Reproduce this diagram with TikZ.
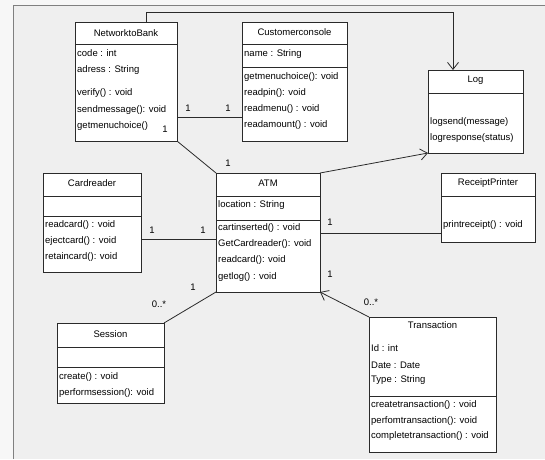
\documentclass[tikz,border=0pt]{standalone}
\usepackage{fontspec}
\setmainfont{Liberation Sans}
\usetikzlibrary{arrows.meta,calc}
\definecolor{canvas}{HTML}{EFEFEF}
\definecolor{outer}{HTML}{F7F7F7}
\definecolor{edge}{HTML}{2A2A2A}
\begin{document}
\begin{tikzpicture}[x=1pt,y=-1pt,
  font=\fontsize{9.5}{11}\selectfont,
  classbox/.style={draw=edge, fill=white, line width=0.9pt, anchor=north west, inner sep=0pt, outer sep=0pt},
  sep/.style={draw=edge, line width=0.9pt},
  row/.style={anchor=west, inner sep=0pt},
  title/.style={anchor=center, inner sep=0pt},
  assoc/.style={draw=edge, line width=0.8pt},
  nav/.style={assoc, -{Straight Barb[length=7pt,width=11pt,line width=0.8pt]}},
  mult/.style={inner sep=0pt, anchor=center}]
\useasboundingbox (0,0) rectangle (545,459);
\fill[outer] (0,0) rectangle (545,459);
\fill[canvas] (13,5) rectangle (545,459);
\draw[gray, line width=0.8pt] (13,459) -- (13,5) -- (545,5);

% ---------- NetworktoBank ----------
\node[classbox, minimum width=102pt, minimum height=119pt] (nb) at (75,22) {};
\draw[sep] ($(nb.north west)+(0,22)$) -- ($(nb.north east)+(0,22)$);
\node[title] (nbT) at (126,33) {NetworktoBank};
\node[row] (nb1) at (77,53) {code : int};
\node[row] (nb2) at (77,70) {adress : String};
\node[row] (nb3) at (77,93) {verify() : void};
\node[row] (nb4) at (77,110) {sendmessage(): void};
\node[row] (nb5) at (77,126) {getmenuchoice()};

% ---------- Customerconsole ----------
\node[classbox, minimum width=105pt, minimum height=119pt] (cc) at (242,22) {};
\draw[sep] ($(cc.north west)+(0,22)$) -- ($(cc.north east)+(0,22)$);
\draw[sep] ($(cc.north west)+(0,45)$) -- ($(cc.north east)+(0,45)$);
\node[title] (ccT) at (294.5,32) {Customerconsole};
\node[row] (cc1) at (244,54) {name : String};
\node[row] (cc2) at (244,77) {getmenuchoice(): void};
\node[row] (cc3) at (244,93) {readpin(): void};
\node[row] (cc4) at (244,109) {readmenu() : void};
\node[row] (cc5) at (244,125) {readamount() : void};

% ---------- Log ----------
\node[classbox, minimum width=95pt, minimum height=83pt] (log) at (428,70) {};
\draw[sep] ($(log.north west)+(0,23)$) -- ($(log.north east)+(0,23)$);
\node[title] (logT) at (475.5,80) {Log};
\node[row] (log1) at (430,122) {logsend(message)};
\node[row] (log2) at (430,138) {logresponse(status)};

% ---------- Cardreader ----------
\node[classbox, minimum width=98pt, minimum height=99pt] (cr) at (43,173) {};
\draw[sep] ($(cr.north west)+(0,23)$) -- ($(cr.north east)+(0,23)$);
\draw[sep] ($(cr.north west)+(0,43)$) -- ($(cr.north east)+(0,43)$);
\node[title] (crT) at (92,183) {Cardreader};
\node[row] (cr1) at (45,225) {readcard() : void};
\node[row] (cr2) at (45,241) {ejectcard() : void};
\node[row] (cr3) at (45,257) {retaincard(): void};

% ---------- ATM ----------
\node[classbox, minimum width=104pt, minimum height=119pt] (atm) at (216,173) {};
\draw[sep] ($(atm.north west)+(0,23)$) -- ($(atm.north east)+(0,23)$);
\draw[sep] ($(atm.north west)+(0,47)$) -- ($(atm.north east)+(0,47)$);
\node[title] (atmT) at (268,183) {ATM};
\node[row] (atm1) at (218,205) {location : String};
\node[row] (atm2) at (218,228) {cartinserted() : void};
\node[row] (atm3) at (218,244) {GetCardreader(): void};
\node[row] (atm4) at (218,260) {readcard(): void};
\node[row] (atm5) at (218,277) {getlog() : void};

% ---------- ReceiptPrinter ----------
\node[classbox, minimum width=94pt, minimum height=69pt] (rp) at (441,173) {};
\draw[sep] ($(rp.north west)+(0,23)$) -- ($(rp.north east)+(0,23)$);
\node[title] (rpT) at (488,183) {ReceiptPrinter};
\node[row] (rp1) at (443,225) {printreceipt() : void};

% ---------- Session ----------
\node[classbox, minimum width=107pt, minimum height=80pt] (ses) at (57,323) {};
\draw[sep] ($(ses.north west)+(0,24)$) -- ($(ses.north east)+(0,24)$);
\draw[sep] ($(ses.north west)+(0,44)$) -- ($(ses.north east)+(0,44)$);
\node[title] (sesT) at (110.5,334) {Session};
\node[row] (ses1) at (59,377) {create() : void};
\node[row] (ses2) at (59,393) {performsession(): void};

% ---------- Transaction ----------
\node[classbox, minimum width=127pt, minimum height=135pt] (tr) at (369,317) {};
\draw[sep] ($(tr.north west)+(0,79)$) -- ($(tr.north east)+(0,79)$);
\node[title] (trT) at (432.5,325) {Transaction};
\node[row] (tr1) at (371,348) {Id : int};
\node[row] (tr2) at (371,365) {Date : Date};
\node[row] (tr3) at (371,380) {Type : String};
\node[row] (tr4) at (371,405) {createtransaction() : void};
\node[row] (tr5) at (371,421) {perfomtransaction(): void};
\node[row] (tr6) at (371,436) {completetransaction() : void};

% ---------- associations ----------
\draw[nav] ($(nb.north west)+(71,0)$) |- ($(log.north west)+(25,-58)$) -- ($(log.north west)+(25,0)$);
\draw[assoc] ($(nb.north east)+(0,95)$) -- ($(cc.north west)+(0,95)$);
\node[mult] (m1) at (188,108) {1};
\node[mult] (m2) at (228,108) {1};
\draw[assoc] (nb.south east) -- (atm.north west);
\node[mult] (m3) at (165,129) {1};
\node[mult] (m4) at (228,163) {1};
\draw[nav] (atm.north east) -- (log.south west);
\draw[assoc] ($(cr.north west)+(98,66)$) -- ($(atm.north west)+(0,66)$);
\node[mult] (m5) at (152,230) {1};
\node[mult] (m6) at (203,230) {1};
\draw[assoc] ($(atm.north east)+(0,60)$) -- ($(rp.north west)+(0,60)$);
\node[mult] (m7) at (330,222) {1};
\draw[assoc] (ses.north east) -- (atm.south west);
\node[mult] (m8) at (159,304) {0..*};
\node[mult] (m9) at (193,287) {1};
\draw[nav] (tr.north west) -- (atm.south east);
\node[mult] (m10) at (330,274) {1};
\node[mult] (m11) at (371,302) {0..*};
\end{tikzpicture}
\end{document}
